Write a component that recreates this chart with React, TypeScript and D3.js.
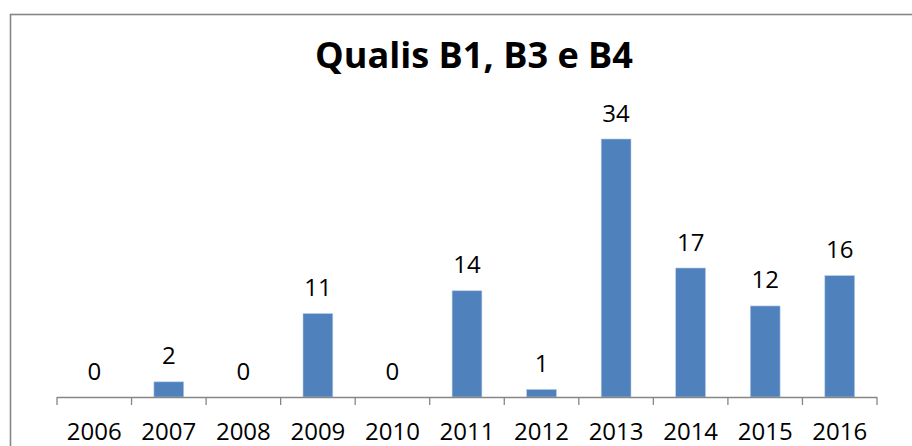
import React, { useRef, useEffect } from 'react'
import { select, scaleBand, scaleLinear, range } from 'd3'

const years = ['2006', '2007', '2008', '2009', '2010', '2011', '2012', '2013', '2014', '2015', '2016']
const counts = [0, 2, 0, 11, 0, 14, 1, 34, 17, 12, 16]
const title = 'Qualis B1, B3 e B4'

const W = 912
const H = 446
const FONT = "'Open Sans', 'Liberation Sans', sans-serif"

function App() {
  const svgRef = useRef<SVGSVGElement>(null)

  useEffect(() => {
    const svg = select(svgRef.current)
    svg.selectAll('*').remove()

    const left = 57
    const right = 877
    const base = 397

    // band for the category cells, bars take the middle 40%
    const x = scaleBand<string>().domain(years).range([left, right]).paddingInner(0.6).paddingOuter(0.3)
    const step = x.step()
    const y = scaleLinear().domain([0, 34]).range([base, 139])

    // chart area frame (cut off on right and bottom)
    svg.append('rect')
      .attr('x', 10.5).attr('y', 14.5)
      .attr('width', 1000).attr('height', 600)
      .attr('fill', 'white')
      .attr('stroke', '#868686')
      .attr('stroke-width', 1.6)

    svg.append('text')
      .attr('x', 474).attr('y', 68)
      .attr('text-anchor', 'middle')
      .attr('font-family', FONT)
      .attr('font-weight', 'bold')
      .attr('font-size', 35)
      .attr('textLength', 318)
      .attr('lengthAdjust', 'spacingAndGlyphs')
      .attr('fill', '#000')
      .text(title)

    svg.selectAll('.bar').data(counts).join('rect').attr('class', 'bar')
      .attr('x', (_, i) => x(years[i]) as number)
      .attr('width', x.bandwidth())
      .attr('y', d => y(d))
      .attr('height', d => base - y(d))
      .attr('fill', '#4F81BD')
      .attr('stroke', '#b9cde5')
      .attr('stroke-width', 0.6)

    // axis line + ticks
    svg.append('line')
      .attr('x1', left).attr('x2', right)
      .attr('y1', base + 0.5).attr('y2', base + 0.5)
      .attr('stroke', '#868686').attr('stroke-width', 1.3)
    svg.selectAll('.tick').data(range(years.length + 1)).join('line').attr('class', 'tick')
      .attr('x1', i => left + i * step).attr('x2', i => left + i * step)
      .attr('y1', base).attr('y2', base + 8)
      .attr('stroke', '#868686').attr('stroke-width', 1.3)

    svg.selectAll('.lbl').data(counts).join('text').attr('class', 'lbl')
      .attr('x', (_, i) => (x(years[i]) as number) + x.bandwidth() / 2)
      .attr('y', d => y(d) - 17.5)
      .attr('text-anchor', 'middle')
      .attr('font-family', FONT)
      .attr('font-size', 24)
      .attr('fill', '#000')
      .text(d => d)

    svg.selectAll('.cat').data(years).join('text').attr('class', 'cat')
      .attr('x', d => (x(d) as number) + x.bandwidth() / 2)
      .attr('y', 440)
      .attr('text-anchor', 'middle')
      .attr('font-family', FONT)
      .attr('font-size', 24)
      .attr('fill', '#000')
      .text(d => d)
  }, [])

  return (
    <svg ref={svgRef} width={W} height={H}
      style={{ position: 'absolute', left: 0, top: 0, background: 'white' }} />
  )
}

export default App
